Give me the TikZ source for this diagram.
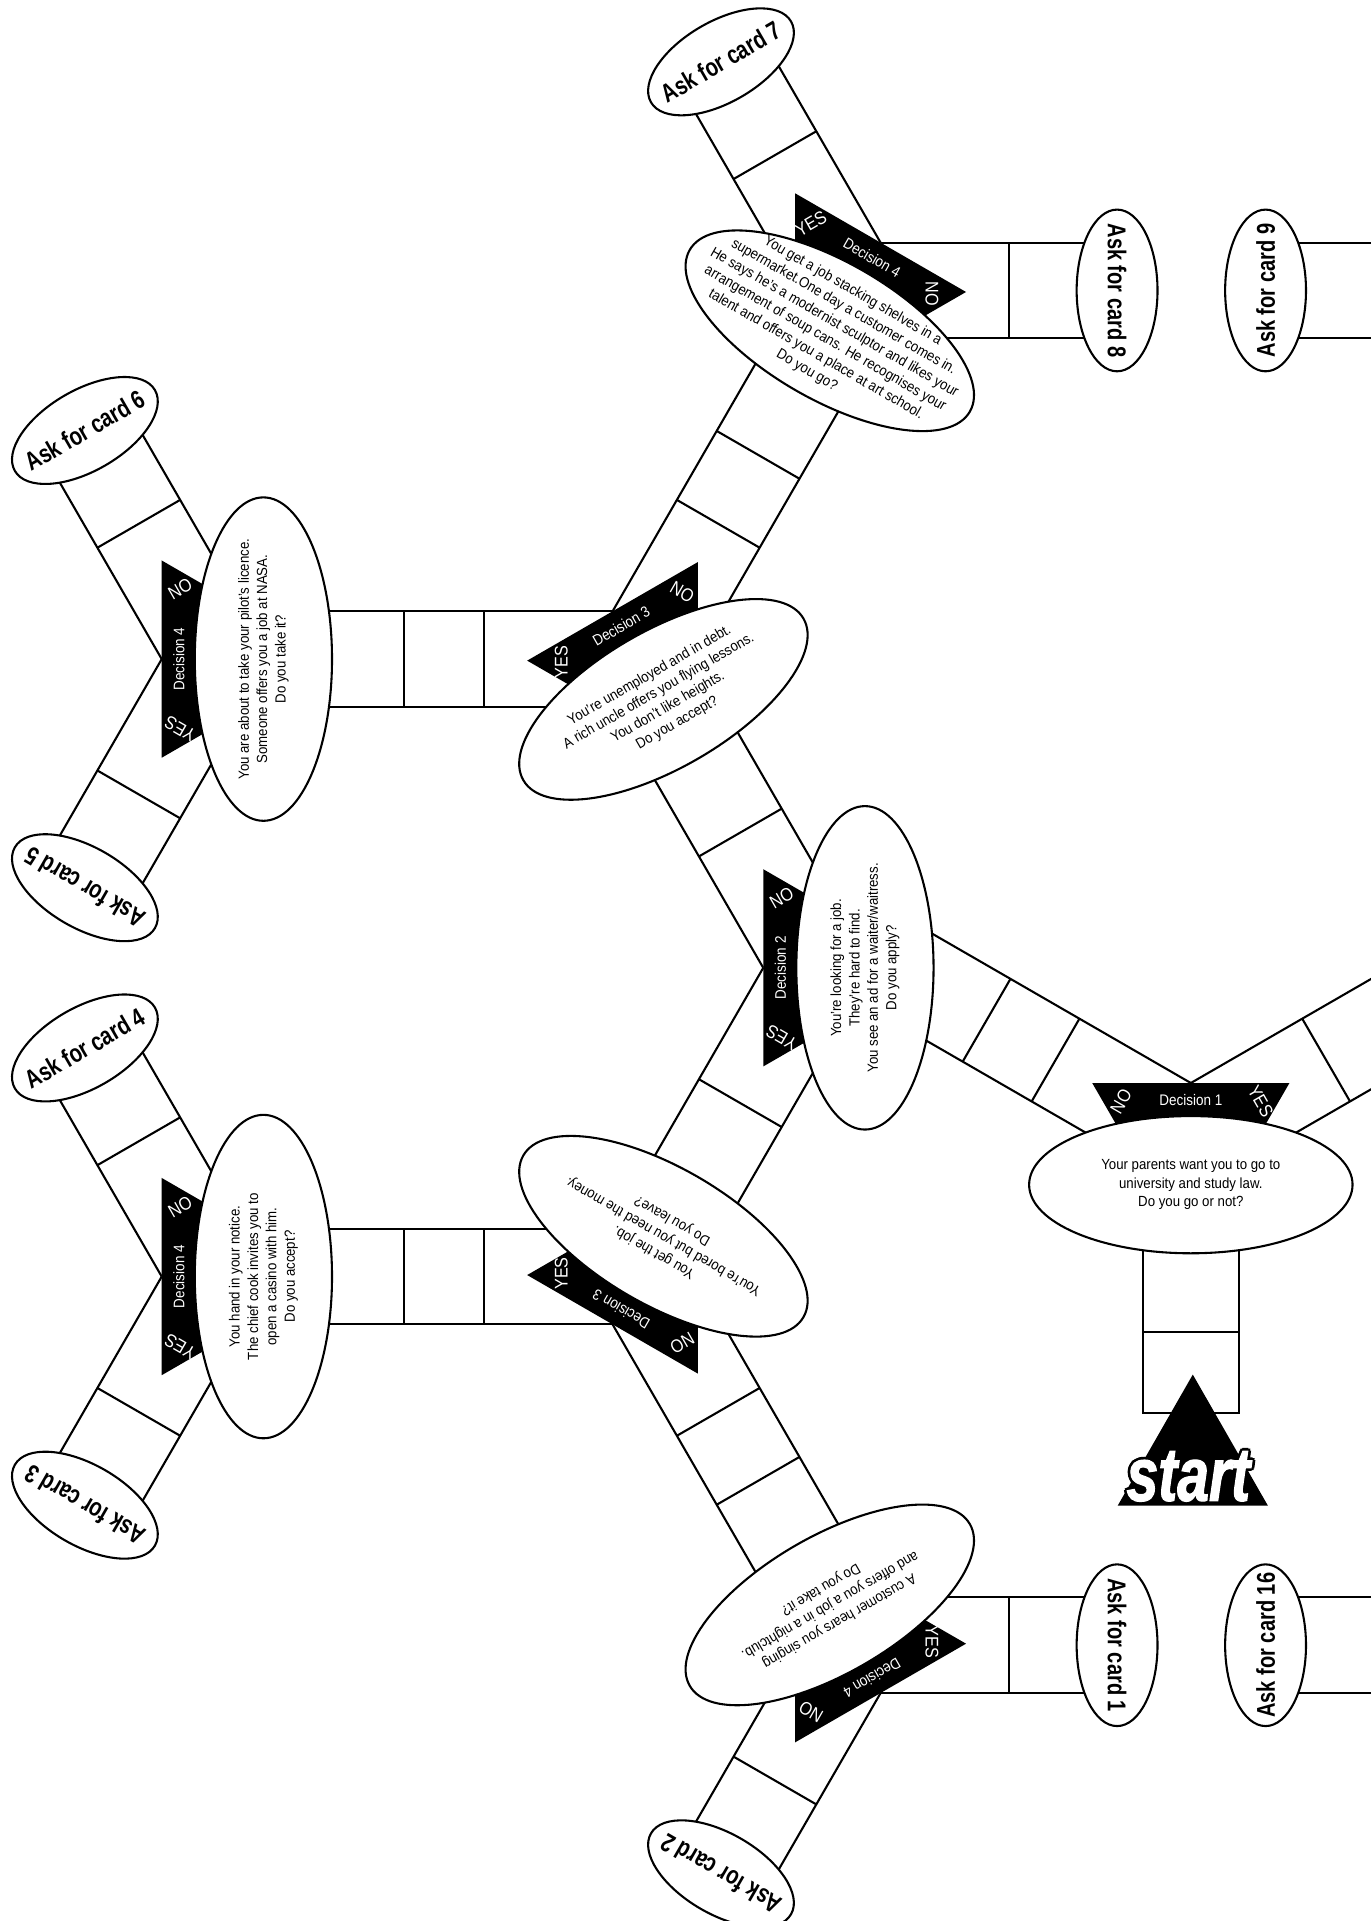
\documentclass[tikz,border=0pt]{standalone}
\usepackage{fontspec}
\setmainfont{Liberation Sans}
\newfontfamily\bodyf[FakeStretch=0.9]{Liberation Sans}
\newfontfamily\cardf[FakeStretch=0.78]{Liberation Sans Bold}
\newfontfamily\labf[FakeStretch=0.88]{Liberation Sans}
\newfontfamily\startf[FakeStretch=0.75,FakeBold=1.5]{Liberation Sans Bold Italic}
\usetikzlibrary{calc,shapes.geometric}

\tikzset{
  board/.style={line width=0.85pt, line cap=butt},
  decell/.style={ellipse, draw, fill=white, line width=0.85pt, minimum width=132pt, minimum height=56pt, inner sep=0pt},
  cardell/.style={ellipse, draw, fill=white, line width=0.85pt, minimum width=66pt, minimum height=33pt, inner sep=0pt},
  body/.style={align=center, font=\bodyf\fontsize{6}{7.5}\selectfont, inner sep=0pt},
  cardtxt/.style={font=\cardf\fontsize{10.5}{12}\selectfont, inner sep=0pt},
  declab/.style={text=white, font=\labf\fontsize{6.25}{7}\selectfont, inner sep=0pt},
  yn/.style={text=white, font=\labf\fontsize{7.5}{8}\selectfont, inner sep=0pt},
  starttxt/.style={font=\startf\fontsize{31}{32}\selectfont, inner sep=0pt, anchor=base},
}

% #1 apex, #2 direction, #3 outward offset angle, #4 length, #5 dividers
\newcommand\bstrip[5]{%
  \draw[board] (#1) -- ($(#1)+(#2:#4)$);
  \draw[board] ($(#1)+(#3:78)$) -- ($(#1)+(#3:78)+(#2:#4)$);
  \foreach \dd in {#5}{\draw[board] ($(#1)+(#2:\dd)$) -- ($(#1)+(#2:\dd)+(#3:78)$);}
}
% #1 apex, #2 frame angle, #3 title, #4 start label, #5 end label
\newcommand\bbanner[5]{%
  \begin{scope}[shift={(#1)}, rotate=#2, transform shape]
    \fill[black] (-80.5,0) -- (80.5,0) -- (54.5,-45) -- (-54.5,-45) -- cycle;
    \node[declab] at (0,-14) {#3};
    \node[yn, rotate=60] at (-57,-15) {#4};
    \node[yn, rotate=-60] at (57,-15) {#5};
  \end{scope}}

\begin{document}
\begin{tikzpicture}[x=0.5pt,y=0.5pt]
\useasboundingbox (0,0) rectangle (1119,1568);
\clip (0,0) rectangle (1119,1568);

% apexes of the decision banners
\coordinate (A1) at (972,684);
\coordinate (A2) at (623,778);
\coordinate (A3t) at (500,1069);
\coordinate (A4t) at (718.8,1369.9);
\coordinate (AN) at (132,1030);
\coordinate (A3b) at (500,487);
\coordinate (A4b) at (718.8,186.1);
\coordinate (AC) at (132,526);

% path strips
\bstrip{A1}{150}{240}{290}{105,170}
\bstrip{A1}{30}{-60}{260}{105}
\bstrip{A2}{120}{30}{230}{105}
\bstrip{A2}{240}{330}{230}{105}
\bstrip{A3t}{180}{270}{285}{105,170}
\bstrip{A3t}{60}{-30}{287}{105,170}
\bstrip{A4t}{120}{210}{193}{105}
\bstrip{A4t}{0}{270}{193}{105}
\bstrip{AN}{120}{30}{193}{105}
\bstrip{AN}{240}{330}{193}{105}
\bstrip{A3b}{300}{30}{287}{105,170}
\bstrip{A3b}{180}{90}{285}{105,170}
\bstrip{A4b}{0}{90}{193}{105}
\bstrip{A4b}{240}{150}{193}{105}
\bstrip{AC}{120}{30}{193}{105}
\bstrip{AC}{240}{330}{193}{105}

% start strip
\draw[board] (933,560) -- (933,415) -- (1011,415) -- (1011,560);
\draw[board] (933,481) -- (1011,481);

% strips beyond cards 9 and 16
\draw[board] (1033,1369.9) -- (1125,1369.9);
\draw[board] (1033,1291.9) -- (1125,1291.9);
\draw[board] (1033,186.1) -- (1125,186.1);
\draw[board] (1033,264.1) -- (1125,264.1);

% banners
\bbanner{A1}{0}{Decision 1}{NO}{YES}
\bbanner{A2}{90}{Decision 2}{YES}{NO}
\bbanner{A3t}{30}{Decision 3}{YES}{NO}
\bbanner{A4t}{-30}{Decision 4}{YES}{NO}
\bbanner{AN}{90}{Decision 4}{YES}{NO}
\bbanner{A3b}{150}{Decision 3}{NO}{YES}
\bbanner{A4b}{210}{Decision 4}{YES}{NO}
\bbanner{AC}{90}{Decision 4}{YES}{NO}

% decision ellipses
\node[decell] (d1) at (972,601) {};
\node[body] at (d1.center) {Your parents want you to go to\\university and study law.\\Do you go or not?};

\node[decell, rotate=90] (d2) at (706,778) {};
\node[body, rotate=90] at (d2.center) {You’re looking for a job.\\They’re hard to find.\\You see an ad for a waiter/waitress.\\Do you apply?};

\node[decell, rotate=30] (d3t) at (541.5,997.1) {};
\node[body, rotate=30] at (d3t.center) {You’re unemployed and in debt.\\A rich uncle offers you flying lessons.\\You don’t like heights.\\Do you accept?};

\node[decell, rotate=-30] (d4t) at (677.3,1298) {};
\node[body, rotate=-30] at (d4t.center) {You get a job stacking shelves in a\\supermarket.One day a customer comes in.\\He says he’s a modernist sculptor and likes your\\arrangement of soup cans. He recognises your\\talent and offers you a place at art school.\\Do you go?};

\node[decell, rotate=90] (dn) at (215,1030) {};
\node[body, rotate=90] at (dn.center) {You are about to take your pilot’s licence.\\Someone offers you a job at NASA.\\Do you take it?};

\node[decell, rotate=150] (d3b) at (541.5,558.9) {};
\node[body, rotate=150] at (d3b.center) {You get the job.\\You’re bored but you need the money.\\Do you leave?};

\node[decell, rotate=210] (d4b) at (677.3,258) {};
\node[body, rotate=210] at (d4b.center) {A customer hears you singing\\and offers you a job in a nightclub.\\Do you take it?};

\node[decell, rotate=90] (dc) at (215,526) {};
\node[body, rotate=90] at (dc.center) {You hand in your notice.\\The chief cook invites you to\\open a casino with him.\\Do you accept?};

% card ellipses
\node[cardell, rotate=30] (c7) at (588.5,1517.5) {};
\node[cardtxt, rotate=30] at (c7.center) {Ask for card 7};
\node[cardell, rotate=90] (c8) at (911.8,1330.9) {};
\node[cardtxt, rotate=-90] at (c8.center) {Ask for card 8};
\node[cardell, rotate=90] (c9) at (1033,1330.9) {};
\node[cardtxt, rotate=90] at (c9.center) {Ask for card 9};
\node[cardell, rotate=30] (c6) at (69.3,1216.6) {};
\node[cardtxt, rotate=30] at (c6.center) {Ask for card 6};
\node[cardell, rotate=150] (c5) at (69.3,843.4) {};
\node[cardtxt, rotate=150] at (c5.center) {Ask for card 5};
\node[cardell, rotate=30] (c4) at (69.3,712.6) {};
\node[cardtxt, rotate=30] at (c4.center) {Ask for card 4};
\node[cardell, rotate=150] (c3) at (69.3,339.4) {};
\node[cardtxt, rotate=150] at (c3.center) {Ask for card 3};
\node[cardell, rotate=150] (c2) at (588.5,38.5) {};
\node[cardtxt, rotate=150] at (c2.center) {Ask for card 2};
\node[cardell, rotate=90] (c1) at (911.8,225.1) {};
\node[cardtxt, rotate=-90] at (c1.center) {Ask for card 1};
\node[cardell, rotate=90] (c16) at (1033,225.1) {};
\node[cardtxt, rotate=90] at (c16.center) {Ask for card 16};

% start triangle
\fill[black] (912.3,339) -- (1034.9,339) -- (973.6,446) -- cycle;
\coordinate (st) at (970,343);
\foreach \a in {0,45,...,315}{\node[starttxt, text=black] at ($(st)+(\a:2.2)$) {start};}
\node[starttxt, text=white] (starttext) at (st) {start};
\end{tikzpicture}
\end{document}
